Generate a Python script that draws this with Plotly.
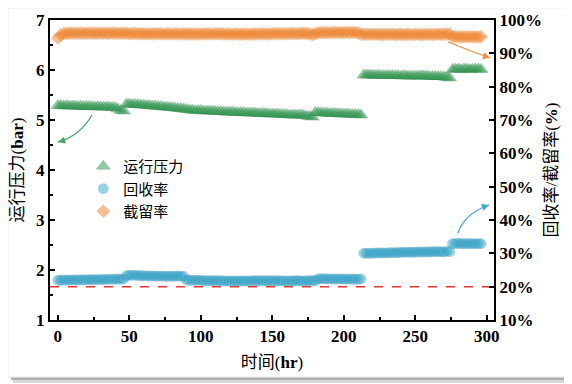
import plotly.graph_objects as go

time_hr = [0, 2, 4, 6, 8, 10, 12, 14, 16, 18, 20, 22, 24, 26, 28, 30, 32, 34, 36, 38, 40, 42, 44, 46,
           48, 50, 52, 54, 56, 58, 60, 62, 64, 66, 68, 70, 72, 74, 76, 78, 80, 82, 84, 86, 88,
           90, 92, 94, 96, 98, 100, 102, 104, 106, 108, 110, 112, 114, 116, 118, 120, 122, 124, 126, 128,
           130, 132, 134, 136, 138, 140, 142, 144, 146, 148, 150, 152, 154, 156, 158, 160, 162, 164, 166, 168,
           170, 172, 174, 176, 178, 180, 182, 184, 186, 188, 190, 192, 194, 196, 198, 200, 202, 204, 206, 208,
           210, 212, 214, 216, 218, 220, 222, 224, 226, 228, 230, 232, 234, 236, 238, 240, 242, 244, 246, 248,
           250, 252, 254, 256, 258, 260, 262, 264, 266, 268, 270, 272, 274, 276, 278, 280, 282, 284, 286, 288,
           290, 292, 294, 296]

pressure_bar = [5.29, 5.29, 5.28, 5.29, 5.28, 5.28, 5.28, 5.27, 5.28, 5.27, 5.27, 5.27, 5.27, 5.26, 5.27, 5.26,
                5.26, 5.26, 5.26, 5.25, 5.25, 5.22, 5.19, 5.18,
                5.32, 5.32, 5.31, 5.31, 5.31, 5.30, 5.30, 5.29, 5.29, 5.28,
                5.28, 5.27, 5.27, 5.26, 5.26, 5.25, 5.25, 5.24, 5.23, 5.23,
                5.22, 5.21, 5.20, 5.20, 5.19, 5.19, 5.19, 5.18, 5.18, 5.18,
                5.18, 5.17, 5.17, 5.17, 5.16, 5.16, 5.16, 5.16, 5.15, 5.15,
                5.15, 5.15, 5.14, 5.14, 5.14, 5.14, 5.13, 5.13, 5.13, 5.13,
                5.12, 5.12, 5.12, 5.12, 5.11, 5.11, 5.11, 5.10, 5.10, 5.10,
                5.10, 5.10, 5.09, 5.08, 5.07, 5.06,
                5.15, 5.15, 5.14, 5.14, 5.14, 5.13, 5.13, 5.13, 5.13, 5.12, 5.12, 5.12, 5.12, 5.11, 5.11, 5.11, 5.10,
                5.90, 5.90, 5.90, 5.90, 5.89, 5.90, 5.89, 5.89, 5.89, 5.89,
                5.89, 5.89, 5.89, 5.88, 5.89, 5.88, 5.88, 5.88, 5.88, 5.88,
                5.88, 5.88, 5.88, 5.87, 5.87, 5.87, 5.87, 5.87, 5.86, 5.85, 5.84,
                6.01, 6.02, 6.02, 6.01, 6.02, 6.02, 6.01, 6.02, 6.02, 6.02, 6.01]

recovery_pct = [21.9, 21.9, 22.0, 21.9, 22.0, 22.0, 22.0, 22.0, 22.1, 22.0, 22.1, 22.1, 22.1, 22.1, 22.1, 22.2,
                22.1, 22.2, 22.2, 22.2, 22.2, 22.3, 22.2, 22.3,
                23.3, 23.4, 23.4, 23.4, 23.3, 23.3, 23.3, 23.2, 23.2, 23.2, 23.2, 23.1, 23.2, 23.1, 23.1, 23.1,
                23.1, 23.1, 23.2, 23.1, 23.1,
                22.0, 21.9, 21.9, 21.9, 21.9, 21.9, 21.8, 21.8, 21.8, 21.8,
                21.8, 21.8, 21.8, 21.7, 21.7, 21.7, 21.7, 21.7, 21.7, 21.7,
                21.7, 21.7, 21.7, 21.8, 21.8, 21.8, 21.8, 21.8, 21.8, 21.8,
                21.7, 21.8, 21.8, 21.8, 21.7, 21.7, 21.7, 21.7, 21.8, 21.8,
                21.7, 21.7, 21.8, 21.8, 21.8, 21.8,
                22.3, 22.4, 22.4, 22.3, 22.3, 22.3, 22.3, 22.3, 22.3, 22.3, 22.2, 22.3, 22.2, 22.3, 22.2, 22.3,
                30.0, 30.0, 30.0, 30.0, 30.1, 30.1, 30.1, 30.1, 30.1, 30.2,
                30.2, 30.2, 30.2, 30.3, 30.3, 30.3, 30.3, 30.3, 30.3, 30.4,
                30.4, 30.4, 30.4, 30.4, 30.5, 30.5, 30.5, 30.5, 30.4, 30.6, 30.5,
                32.9, 32.9, 33.0, 32.9, 32.9, 32.9, 32.9, 32.9, 32.9, 32.9, 32.9]

retention_pct = [94.6, 95.5, 95.9, 96.0, 96.0, 96.1, 96.0, 96.0, 96.1, 96.0, 96.0, 96.1, 96.0, 96.0, 96.0, 96.1,
                 96.0, 96.0, 96.0, 96.1, 96.0, 96.0, 96.0, 96.0,
                 96.0, 95.9, 95.9, 96.0, 95.9, 95.9, 95.9, 95.9, 95.9, 95.8, 95.9, 95.9, 95.9, 95.8, 95.9, 95.9,
                 95.8, 95.9, 95.8, 95.8, 95.9, 95.8, 95.8, 95.8, 95.8, 95.8,
                 95.8, 95.8, 95.9, 95.9, 95.8, 95.9, 95.9, 95.9, 95.8, 95.8,
                 95.8, 95.7, 95.8, 95.8, 95.7, 95.8, 95.8, 95.7, 95.8, 95.8,
                 95.8, 95.8, 95.9, 95.8, 95.8, 95.9, 95.9, 95.9, 95.9, 95.9,
                 95.9, 95.9, 96.0, 95.9, 95.9, 96.0, 96.0, 95.9, 95.9, 95.6,
                 95.9, 96.1, 96.2, 96.2, 96.2, 96.2, 96.2, 96.3, 96.2, 96.2, 96.2, 96.3, 96.2, 96.3, 96.2, 96.2,
                 95.7, 95.7, 95.7, 95.7, 95.7, 95.7, 95.7, 95.6, 95.7, 95.7,
                 95.7, 95.7, 95.6, 95.7, 95.7, 95.6, 95.7, 95.7, 95.6, 95.7,
                 95.7, 95.6, 95.7, 95.7, 95.7, 95.6, 95.7, 95.7, 95.7, 95.7, 95.8, 95.8,
                 95.0, 95.0, 95.0, 94.9, 95.0, 95.0, 95.0, 95.0, 95.0, 94.9, 95.0]

limit_pct = 20
x_ticks = [0, 50, 100, 150, 200, 250, 300]
y_left_ticks = [1, 2, 3, 4, 5, 6, 7]
y_right_ticks = [10, 20, 30, 40, 50, 60, 70, 80, 90, 100]
y_right_labels = ["10%", "20%", "30%", "40%", "50%", "60%", "70%", "80%", "90%", "100%"]

SERIF = "Liberation Serif, Times New Roman, Noto Sans CJK SC"
CJK = "Noto Sans CJK SC, Liberation Serif"

# the page body adds an 8px offset; plot area is placed so it lands at page x 50..494, y 20..320
OFF = 8

fig = go.Figure()
fig.add_trace(go.Scatter(
    x=time_hr, y=pressure_bar, mode="markers", name="运行压力",
    marker=dict(symbol="triangle-up", size=12, color="rgb(55,155,85)", opacity=0.55,
                line=dict(width=0.6, color="rgb(40,130,70)")),
))
fig.add_trace(go.Scatter(
    x=time_hr, y=recovery_pct, mode="markers", name="回收率", yaxis="y2",
    marker=dict(symbol="circle", size=10, color="rgb(55,165,200)", opacity=0.5,
                line=dict(width=0.6, color="rgb(40,140,180)")),
))
fig.add_trace(go.Scatter(
    x=time_hr, y=retention_pct, mode="markers", name="截留率", yaxis="y2",
    marker=dict(symbol="diamond", size=10, color="rgb(240,140,60)", opacity=0.55,
                line=dict(width=0.6, color="rgb(230,120,40)")),
))

def px_to_paper(px, py):
    return (px - 50) / 444.0, (320 - py) / 300.0

shapes = []
# card shadow and card
for (x0, y0, x1, y1, col) in [(13, 13, 571, 383, "#d8d8d8"), (11, 11, 568, 380, "#b0b0b0")]:
    a0, b1 = px_to_paper(x0, y0)
    a1, b0 = px_to_paper(x1, y1)
    shapes.append(dict(type="rect", xref="paper", yref="paper", x0=a0, x1=a1, y0=b0, y1=b1,
                       fillcolor=col, line=dict(width=0), layer="below"))
a0, b1 = px_to_paper(8, 8)
a1, b0 = px_to_paper(565, 377)
shapes.append(dict(type="rect", xref="paper", yref="paper", x0=a0, x1=a1, y0=b0, y1=b1,
                   fillcolor="white", line=dict(width=1, color="#ececec"), layer="below"))
# red dashed limit line
shapes.append(dict(type="line", xref="paper", yref="y2", x0=0, x1=1, y0=limit_pct, y1=limit_pct,
                   line=dict(color="rgb(235,50,50)", width=1.5, dash="dash"), layer="below"))

annotations = []
arrows = [
    ((92, 115), (80, 136), (58, 142), "rgb(70,165,100)"),
    ((448, 42), (468, 50), (490, 58), "rgb(240,140,60)"),
    ((458, 233), (464, 214), (489, 205), "rgb(60,170,205)"),
]
for (s, c, e, col) in arrows:
    sx, sy = px_to_paper(*s)
    cx, cy = px_to_paper(*c)
    ex, ey = px_to_paper(*e)
    shapes.append(dict(type="path", xref="paper", yref="paper",
                       path=f"M {sx},{sy} Q {cx},{cy} {ex},{ey}",
                       line=dict(color=col, width=1.3)))
    dx, dy = e[0] - c[0], e[1] - c[1]
    n = (dx * dx + dy * dy) ** 0.5
    annotations.append(dict(xref="paper", yref="paper", x=ex, y=ey, ax=-dx / n * 8, ay=-dy / n * 8,
                            text="", showarrow=True, arrowhead=2, arrowsize=1.1, arrowwidth=1.3,
                            arrowcolor=col, standoff=0))

axis_common = dict(showline=True, linecolor="black", linewidth=2, ticks="inside", ticklen=5,
                   tickwidth=1.5, tickcolor="black", showgrid=False, zeroline=False, automargin=False,
                   tickfont=dict(family=SERIF, size=17, color="black", weight="bold"))

fig.update_layout(
    width=572, height=384,
    margin=dict(l=50 - OFF, r=572 - (50 - OFF) - 444, t=20 - OFF, b=384 - (20 - OFF) - 300, autoexpand=False),
    paper_bgcolor="white", plot_bgcolor="rgba(0,0,0,0)",
    showlegend=True,
    legend=dict(x=0.075, y=0.567, xanchor="left", yanchor="top", bgcolor="rgba(0,0,0,0)",
                font=dict(family=CJK, size=15, color="black"), itemwidth=30, tracegroupgap=2),
    xaxis=dict(range=[-5.5, 305], tickvals=x_ticks, mirror=True,
               minor=dict(ticks="inside", ticklen=3, tickwidth=1.5, dtick=25, tick0=25, tickcolor="black"),
               title=dict(text="时间(<b>hr</b>)", font=dict(family=SERIF, size=17, color="black"), standoff=11),
               **axis_common),
    yaxis=dict(range=[1, 7], tickvals=y_left_ticks,
               minor=dict(ticks="inside", ticklen=3, tickwidth=1.5, dtick=0.5, tick0=0.5, tickcolor="black"),
               title=dict(text="运行压力(<b>bar</b>)", font=dict(family=SERIF, size=17, color="black"), standoff=9),
               **axis_common),
    yaxis2=dict(range=[10, 100], tickvals=y_right_ticks, ticktext=y_right_labels, overlaying="y", side="right",
                title=dict(text="回收率/截留率(<b>%</b>)", font=dict(family=SERIF, size=17, color="black"), standoff=4),
                **axis_common),
    shapes=shapes,
    annotations=annotations,
)

fig.write_html("out.html")
